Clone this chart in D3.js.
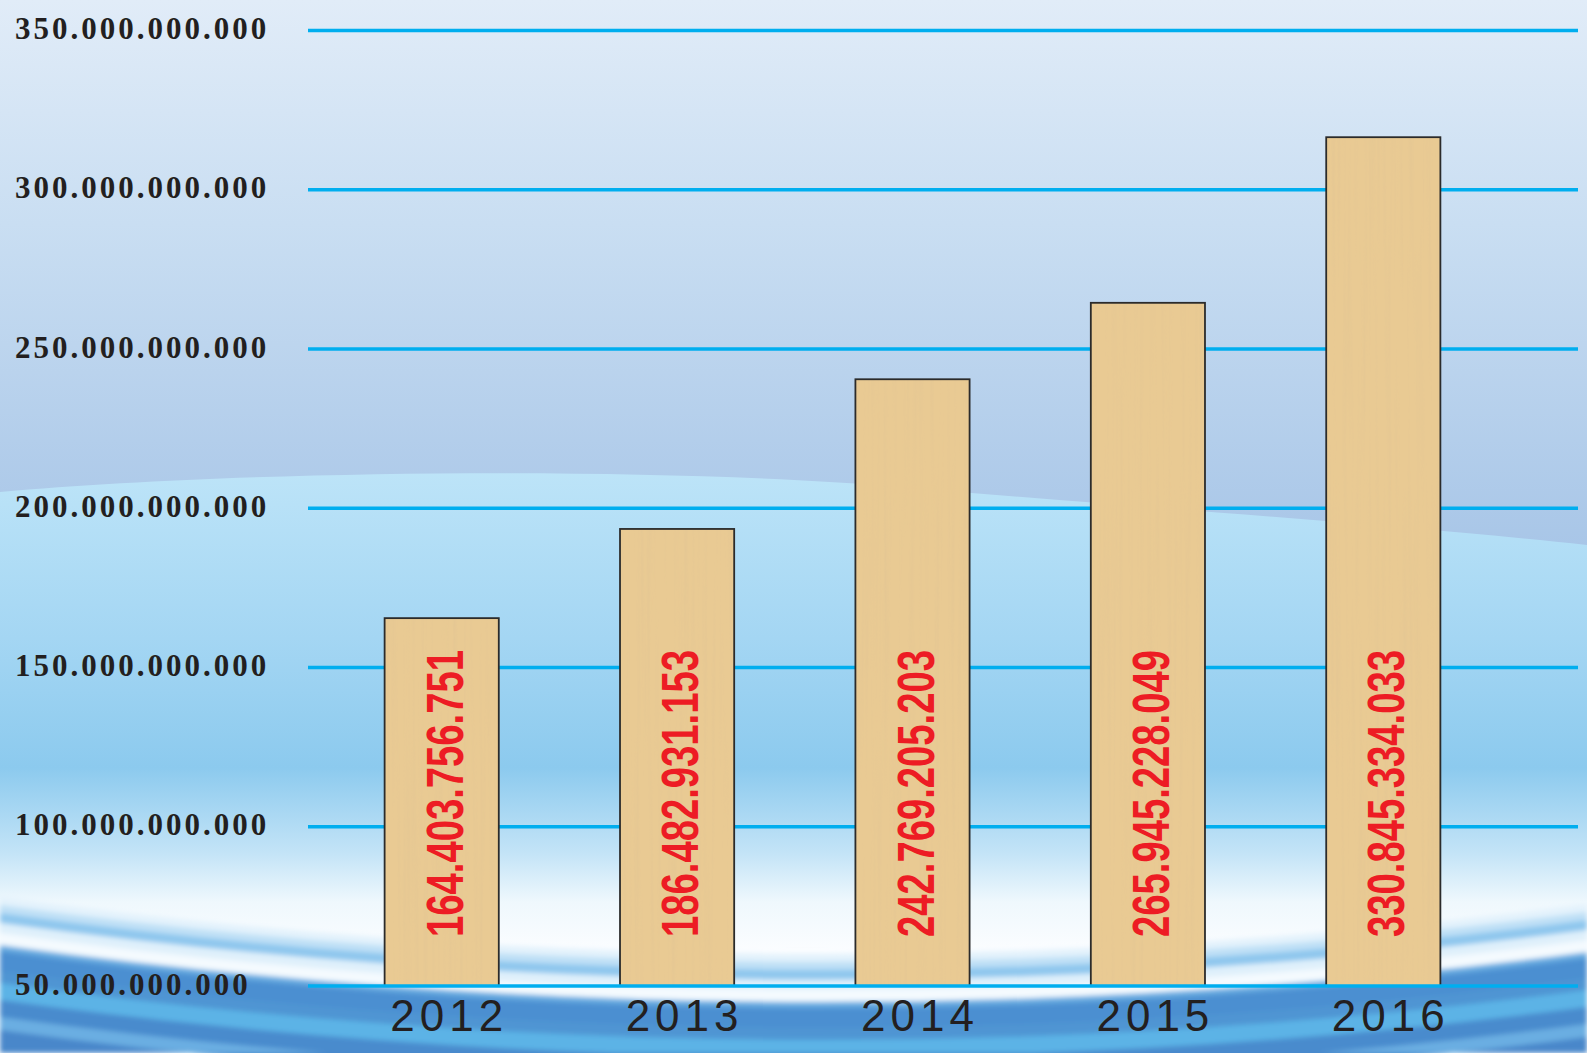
<!DOCTYPE html>
<html>
<head>
<meta charset="utf-8">
<title>2012-2016</title>
<style>
  html, body { margin: 0; padding: 0; overflow: hidden; }
  svg { display: block; }
</style>
</head>
<body>
<svg id="chart"></svg>
<script src="https://d3js.org/d3.v7.min.js"></script>
<script>

// data
let years = ['2012', '2013', '2014', '2015', '2016'];
// value printed in each bar
let valueLabels = ['164.403.756.751', '186.482.931.153', '242.769.205.203', '265.945.228.049', '330.845.334.033'];
// bar heights as drawn, in billions (read against the axis)
let barHeights = [165.5, 193.5, 240.5, 264.5, 316.5];
let yTicks = [50, 100, 150, 200, 250, 300, 350];
let yTickLabels = ['50.000.000.000', '100.000.000.000', '150.000.000.000', '200.000.000.000',
                   '250.000.000.000', '300.000.000.000', '350.000.000.000'];

let width = 1587, height = 1053;

let svg = d3.select('#chart').attr('width', width).attr('height', height);
let defs = svg.append('defs');

function vGrad(id, stops, y1, y2) {
  let g = defs.append('linearGradient').attr('id', id)
    .attr('gradientUnits', 'userSpaceOnUse')
    .attr('x1', 0).attr('x2', 0).attr('y1', y1).attr('y2', y2);
  stops.forEach(s => g.append('stop').attr('offset', s[0]).attr('stop-color', s[1]));
}

vGrad('sky', [[0, '#e1ecf8'], [0.4, '#c9def2'], [1, '#a7c5e7']], 0, 560);
vGrad('sea', [[0, '#bde4f8'], [0.35, '#a4d6f3'], [0.62, '#8ccaee'], [0.8, '#c4e4f7'], [0.9, '#eff8fd'], [1, '#fbfdff']], 470, 950);

defs.append('filter').attr('id', 'soft')
  .append('feGaussianBlur').attr('stdDeviation', 2.5);

// wood grain for the bars
let grain = defs.append('filter').attr('id', 'grain').attr('x', 0).attr('y', 0).attr('width', 1).attr('height', 1);
grain.append('feTurbulence').attr('type', 'fractalNoise').attr('baseFrequency', '0.25 0.004')
  .attr('numOctaves', 2).attr('seed', 7).attr('result', 'n');
grain.append('feColorMatrix').attr('in', 'n').attr('type', 'matrix')
  .attr('values', '0 0 0 0 0.66  0 0 0 0 0.5  0 0 0 0 0.3  1.1 0 0 0 -0.5').attr('result', 'c');
grain.append('feComposite').attr('in', 'c').attr('in2', 'SourceAlpha').attr('operator', 'in');

// background
let bg = svg.append('g');
bg.append('rect').attr('width', width).attr('height', height).attr('fill', 'url(#sky)');
bg.append('path')
  .attr('d', 'M0,492 C250,470 650,466 900,487 S1400,525 1587,545 L1587,1053 L0,1053 Z')
  .attr('fill', 'url(#sea)');

// curved stripes at the bottom
let bowl = (o) => `M0,${905 + o} Q800,${1015 + o} 1587,${912 + o} L1587,1053 L0,1053 Z`;
let stripes = [[-8, '#e3f2fc'], [0, '#bfe0f6'], [8, '#8fc7ee'], [18, '#dff0fb'], [28, '#f4fafe'],
               [40, '#6aaee2'], [46, '#4c8fd1'], [66, '#4f95d3'], [78, '#5cb3e6'], [95, '#4a8bcd'],
               [112, '#6aaee2'], [125, '#4887ca']];
let waves = bg.append('g').attr('filter', 'url(#soft)');
stripes.forEach(s => waves.append('path').attr('d', bowl(s[0])).attr('fill', s[1]));

// scales
let x = d3.scaleBand().domain(years).range([324, 1501]).paddingInner(0.515).paddingOuter(0.2575);
let y = d3.scaleLinear().domain([50, 350]).range([986, 30.5]);

// gridlines
let gridColor = '#00aeef';
svg.append('g').selectAll('line')
  .data(yTicks.filter(d => d > 50))
  .join('line')
  .attr('x1', 308).attr('x2', 1578)
  .attr('y1', d => y(d)).attr('y2', d => y(d))
  .attr('stroke', gridColor).attr('stroke-width', 3.4);

// y labels
svg.append('g').selectAll('text')
  .data(yTicks)
  .join('text')
  .attr('x', 15)
  .attr('y', d => y(d) + 8.5)
  .attr('font-family', '"Liberation Serif", "Times New Roman", serif')
  .attr('font-weight', 'bold')
  .attr('font-size', 31)
  .attr('letter-spacing', 3)
  .attr('fill', '#231f20')
  .text((d, i) => yTickLabels[i]);

// bars
let bars = svg.append('g');
bars.selectAll('rect.bar')
  .data(years)
  .join('rect')
  .attr('class', 'bar')
  .attr('x', d => x(d))
  .attr('y', (d, i) => y(barHeights[i]))
  .attr('width', x.bandwidth())
  .attr('height', (d, i) => y(50) - y(barHeights[i]))
  .attr('fill', '#e9ca93');
bars.selectAll('rect.grain')
  .data(years)
  .join('rect')
  .attr('class', 'grain')
  .attr('x', d => x(d))
  .attr('y', (d, i) => y(barHeights[i]))
  .attr('width', x.bandwidth())
  .attr('height', (d, i) => y(50) - y(barHeights[i]))
  .attr('fill', '#000')
  .attr('filter', 'url(#grain)')
  .attr('opacity', 0.35);
bars.selectAll('rect.edge')
  .data(years)
  .join('rect')
  .attr('class', 'edge')
  .attr('x', d => x(d))
  .attr('y', (d, i) => y(barHeights[i]))
  .attr('width', x.bandwidth())
  .attr('height', (d, i) => y(50) - y(barHeights[i]))
  .attr('fill', 'none')
  .attr('stroke', '#2b2b2b').attr('stroke-width', 1.8);

// baseline over the bar bottoms
svg.append('line')
  .attr('x1', 308).attr('x2', 1578)
  .attr('y1', y(50)).attr('y2', y(50))
  .attr('stroke', gridColor).attr('stroke-width', 3.4);

// value labels, vertical
svg.append('g').selectAll('text')
  .data(years)
  .join('text')
  .attr('transform', d => `translate(${x(d) + x.bandwidth() / 2 + 3},937) rotate(-90)`)
  .attr('dominant-baseline', 'central')
  .attr('font-family', '"Liberation Sans", Arial, sans-serif')
  .attr('font-weight', 'bold')
  .attr('font-size', 52)
  .attr('textLength', 287)
  .attr('lengthAdjust', 'spacingAndGlyphs')
  .attr('fill', '#ed1c24')
  .text((d, i) => valueLabels[i]);

// year labels
svg.append('g').selectAll('text')
  .data(years)
  .join('text')
  .attr('x', d => x(d) + x.bandwidth() / 2 + 7.5)
  .attr('y', 1031)
  .attr('text-anchor', 'middle')
  .attr('font-family', '"Liberation Sans", Arial, sans-serif')
  .attr('font-size', 44)
  .attr('letter-spacing', 5)
  .attr('fill', '#231f20')
  .text(d => d);

</script>
</body>
</html>
